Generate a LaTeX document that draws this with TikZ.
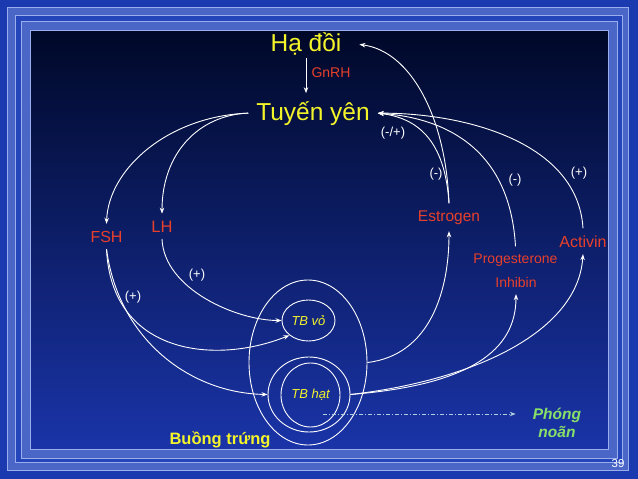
\documentclass[tikz,border=0pt]{standalone}
\usepackage{fontspec}
\setmainfont{Liberation Sans}
\usepackage{xcolor}
\usepackage{tikz}
\usetikzlibrary{positioning,shapes.geometric,arrows.meta}

\definecolor{frameblue}{HTML}{1C3AB0}
\definecolor{bandlight}{HTML}{4A66C6}
\definecolor{banddark}{HTML}{2446BA}
\definecolor{edgeline}{HTML}{9AAEEE}
\definecolor{paneltop}{HTML}{000828}
\definecolor{panelmid}{HTML}{0B1D74}
\definecolor{panelbot}{HTML}{1A34A8}
\definecolor{glandyellow}{HTML}{F4F42A}
\definecolor{hormred}{HTML}{E8402A}
\definecolor{ovgreen}{HTML}{88E068}
\definecolor{ovline}{HTML}{B0D0E0}

\begin{document}
\begin{tikzpicture}[
x=1pt, y=-1pt,
gland/.style={
    text=glandyellow,
    inner sep=1pt,
    font=\fontsize{24.5}{28}\selectfont
},
hormone/.style={
    text=hormred,
    inner sep=1pt,
    outer sep=6pt,
    font=\fontsize{16}{18}\selectfont
},
sign/.style={text=white, font=\fontsize{13}{15}\selectfont},
cell/.style={
    draw=white,
    line width=0.9pt,
    ellipse,
    inner sep=0pt,
    text=glandyellow,
    font=\itshape\fontsize{13}{15}\selectfont
},
arrow/.style={-{Stealth[length=6pt,width=4.5pt]}, draw=white, line width=0.9pt}
]

\useasboundingbox (0,0) rectangle (638,479);

% slide frame
\fill[frameblue] (0,0) rectangle (638,479);
\filldraw[fill=bandlight, draw=edgeline, line width=0.8pt] (7,7) rectangle (628,470);
\filldraw[fill=banddark, draw=edgeline, line width=0.8pt] (15,15) rectangle (622,462);
\filldraw[fill=bandlight, draw=edgeline, line width=0.8pt] (21,21) rectangle (617,458);
\shade[top color=paneltop, middle color=panelmid, bottom color=panelbot] (30,30) rectangle (608,449);
\draw[edgeline, line width=0.8pt] (30,30) rectangle (608,449);

\node[gland, anchor=base, outer sep=1pt] (hado) at (306,52) {Hạ đồi};
\node[gland, anchor=base, outer sep=7pt] (tuyen) at (313,120) {Tuyến yên};
\node[hormone, anchor=base, font=\fontsize{14}{16}\selectfont] (gnrh) at (331,77) {GnRH};

\node[hormone, anchor=base] (fsh) at (106.5,242) {FSH};
\node[hormone, anchor=base, font=\fontsize{16.5}{18}\selectfont] (lh) at (162,232) {LH};
\node[hormone, anchor=base, font=\fontsize{15.5}{18}\selectfont] (estrogen) at (449,221) {Estrogen};
\node[hormone, anchor=base, font=\fontsize{14}{16}\selectfont] (proges) at (515.5,263) {Progesterone};
\node[hormone, anchor=base, font=\fontsize{14}{16}\selectfont] (inhibin) at (516,287) {Inhibin};
\node[hormone, anchor=base] (activin) at (583,247) {Activin};

\node[sign] (s1) at (393,133) {(-/+)};
\node[sign] (s2) at (436,174) {(-)};
\node[sign] (s3) at (515,180) {(-)};
\node[sign] (s4) at (579,173) {(+)};
\node[sign] (s5) at (197,275) {(+)};
\node[sign] (s6) at (133,297) {(+)};

\node[cell, minimum width=118pt, minimum height=165pt] (ovary) at (308,362.5) {};
\node[cell, minimum width=53pt, minimum height=41pt] (tbvo) at (308.5,320.5) {TB vỏ};
\node[cell, minimum width=82pt, minimum height=75pt] (tbhat) at (309,394.5) {};
\node[cell, minimum width=59pt, minimum height=64pt] (tbhatin) at (310.5,395) {TB hạt};

\node[anchor=base, text=glandyellow, font=\bfseries\fontsize{16.5}{18}\selectfont] (buong) at (220,444) {Buồng trứng};
\node[align=center, inner sep=1pt, text=ovgreen, font=\bfseries\itshape\fontsize{15.5}{18.5}\selectfont] (phong) at (557,423) {Phóng\\noãn};
\node[anchor=base, text=white, font=\fontsize{11.5}{13}\selectfont] (page) at (618,467) {39};

\coordinate (ov) at (323,414);

\draw[arrow] (hado.south) -- (hado.south |- tuyen.north);
\draw[arrow] (tuyen.west) .. controls +(-80,3) and +(2,-55) .. (fsh.north);
\draw[arrow] (tuyen.west) .. controls +(-50,2) and +(0,-60) .. (lh.north);
\draw[arrow] (lh.south) .. controls +(2,50) and +(-45,0) .. (tbvo.west);
\draw[arrow] (fsh.south) .. controls +(5,105) and +(-75,30) .. (tbvo.south west);
\draw[arrow] (fsh.south) .. controls +(12,90) and +(-78,-1.5) .. (tbhat.west);
\draw[arrow] (ovary.east) .. controls +(63,-7.5) and +(0,59) .. (estrogen.south);
\draw[arrow] (estrogen.north) .. controls +(-3,-85) and +(52,7) .. ([xshift=16pt]hado.east);
\draw[arrow] (estrogen.north) .. controls +(-4,-63) and +(40,5) .. (tuyen.east);
\draw[arrow] (proges.north) .. controls +(-5.5,-96) and +(70,5) .. (tuyen.east);
\draw[arrow] (activin.north) .. controls +(-5,-85) and +(90,0) .. (tuyen.east);
\draw[arrow] (tbhat.east) .. controls +(120,-9.5) and +(0,56) .. (inhibin.south);
\draw[arrow] (tbhat.east) .. controls +(130,-15) and +(-5,75) .. (activin.south);
\draw[arrow, draw=ovline, dash pattern=on 4pt off 2pt on 1pt off 2pt, shorten >=16pt] (ov) -- (ov -| phong.west);

\end{tikzpicture}
\end{document}
